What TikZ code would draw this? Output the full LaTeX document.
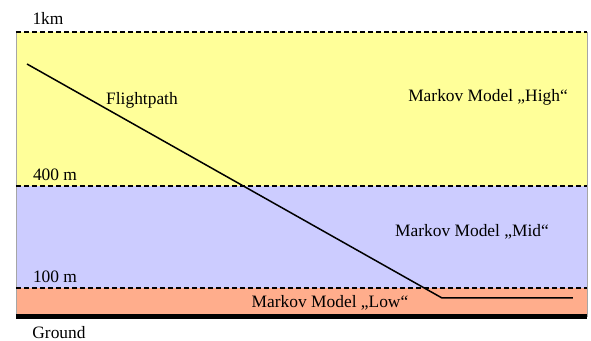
\documentclass[tikz,border=0pt]{standalone}
\usepackage{fontspec}
\setmainfont{Liberation Serif}
\usepackage{tikz}
\usetikzlibrary{positioning}
\definecolor{mhigh}{rgb}{1, 1, 0.6}
\definecolor{mmid}{rgb}{0.8, 0.8, 1}
\definecolor{mlow}{rgb}{1, 0.68, 0.55}
\tikzset{level/.style = {black, dashed, line width=0.75pt, dash pattern=on 2.5pt off 1.5pt},
         lbl/.style = {font=\fontsize{8.7}{10}\selectfont, inner sep=0pt}}

\begin{document}
\begin{tikzpicture}[x=0.5pt, y=-0.5pt]
    \useasboundingbox (0, 0) rectangle (591, 341);

    % layers
    \fill [mhigh] (16, 32) rectangle (587, 186);
    \fill [mmid] (16, 186) rectangle (587, 288);
    \fill [mlow] (16, 288) rectangle (587, 314);
    \draw [gray!70, line width=0.4pt] (16, 32) -- (16, 317) (587, 32) -- (587, 317);

    \draw [level] (16, 32) -- (587, 32);
    \draw [level] (16, 186) -- (587, 186);
    \draw [level] (16, 288) -- (587, 288);
    \draw [black, line width=2.5pt] (16, 316.5) -- (587, 316.5);

    \node [lbl] (km) at (48, 18) {1km};
    \node [lbl] (m400) at (55, 175) {400 m};
    \node [lbl] (m100) at (55, 277) {100 m};
    \node [lbl] (ground) at (59, 333) {Ground};

    \node [lbl] (high) at (488, 97) {Markov Model „High“};
    \node [lbl] (mid) at (472, 232) {Markov Model „Mid“};
    \node [lbl] (low) at (330, 303) {Markov Model „Low“};

    % flight path
    \coordinate (start) at (27, 64);
    \coordinate (bend) at (442, 298);
    \coordinate (stop) at (573, 298);
    \draw [line width=0.75pt] (start) -- (bend) -- (stop);
    \node [lbl] (path) at (142, 100) {Flightpath};

\end{tikzpicture}
\end{document}
